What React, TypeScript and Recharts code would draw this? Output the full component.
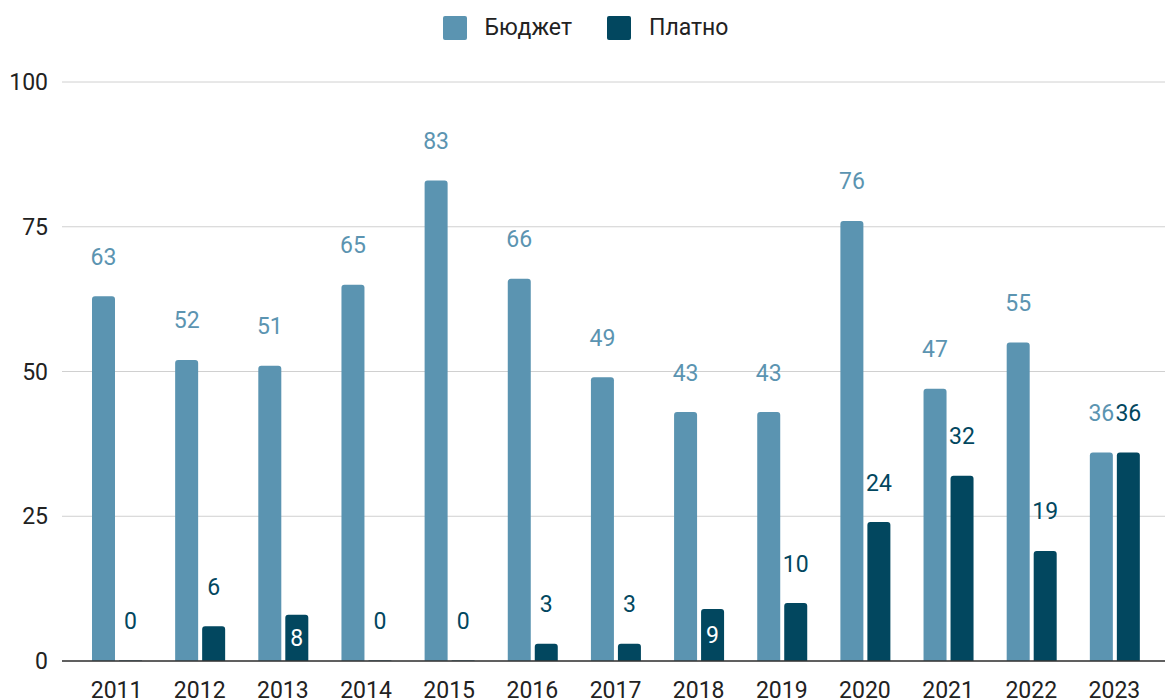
import React from "react";
import { BarChart, Bar, XAxis, YAxis, CartesianGrid, LabelList } from "recharts";

const years = ["2011", "2012", "2013", "2014", "2015", "2016", "2017", "2018", "2019", "2020", "2021", "2022", "2023"];
const budget = [63, 52, 51, 65, 83, 66, 49, 43, 43, 76, 47, 55, 36];
const paid = [0, 6, 8, 0, 0, 3, 3, 9, 10, 24, 32, 19, 36];
const yTicks = [0, 25, 50, 75, 100];
// years where the "Платно" label sits inside its bar in the original
const insideLabelYears = ["2013", "2018"];

const BUDGET_COLOR = "#5b94b1";
const PAID_COLOR = "#02475f";
const FONT = "Roboto, 'Noto Sans', sans-serif";
const FONT_SIZE = 23;

const data = years.map((year, i) => ({ year, budget: budget[i], paid: paid[i] }));

const makeLabel = (color: string, series: "budget" | "paid") => (props: any) => {
  const { x, y, width, height, value, index } = props;
  const inside = series === "paid" && insideLabelYears.includes(years[index]);
  const cx = Number(x) + Number(width) / 2;
  const cy = inside ? Number(y) + Number(height) / 2 + 1 : Number(y) - 39;
  return (
    <text
      x={cx}
      y={cy}
      textAnchor="middle"
      dominantBaseline="central"
      fill={inside ? "#ffffff" : color}
      fontSize={FONT_SIZE}
      fontFamily={FONT}
    >
      {value}
    </text>
  );
};

const legendItems = [
  { name: "Бюджет", color: BUDGET_COLOR },
  { name: "Платно", color: PAID_COLOR },
];

export default function App() {
  return (
    <div style={{ position: "absolute", left: 0, top: 0, width: 1165, height: 699, background: "#fff" }}>
      <div
        style={{
          position: "absolute",
          top: 14,
          left: 3,
          width: 1165,
          display: "flex",
          justifyContent: "center",
          alignItems: "center",
          fontFamily: FONT,
          zIndex: 1,
        }}
      >
        {legendItems.map((item, i) => (
          <div key={item.name} style={{ display: "flex", alignItems: "center", marginLeft: i > 0 ? 35 : 0 }}>
            <div style={{ width: 24, height: 24, background: item.color, borderRadius: 2, marginRight: 18 }} />
            <span style={{ fontSize: FONT_SIZE, color: "#222" }}>{item.name}</span>
          </div>
        ))}
      </div>
      <BarChart
        width={1165}
        height={699}
        data={data}
        margin={{ top: 82, right: 0, bottom: 0, left: 0 }}
        barGap={4}
        barSize={23}
      >
        <CartesianGrid vertical={false} stroke="#d0d0d0" />
        <XAxis
          dataKey="year"
          height={38}
          padding={{ left: 13, right: 9 }}
          tickLine={false}
          tickSize={0}
          tickMargin={21}
          axisLine={{ stroke: "#333", strokeWidth: 1.5 }}
          tick={{ fill: "#222", fontSize: FONT_SIZE, fontFamily: FONT }}
          interval={0}
        />
        <YAxis
          width={62}
          domain={[0, 100]}
          ticks={yTicks}
          axisLine={false}
          tickLine={false}
          tickSize={0}
          tickMargin={14}
          tick={{ fill: "#222", fontSize: FONT_SIZE, fontFamily: FONT }}
        />
        <Bar dataKey="budget" name="Бюджет" fill={BUDGET_COLOR} radius={[3, 3, 0, 0]} isAnimationActive={false}>
          <LabelList dataKey="budget" content={makeLabel(BUDGET_COLOR, "budget")} />
        </Bar>
        <Bar
          dataKey="paid"
          name="Платно"
          fill={PAID_COLOR}
          radius={[3, 3, 0, 0]}
          minPointSize={0.5}
          isAnimationActive={false}
        >
          <LabelList dataKey="paid" content={makeLabel(PAID_COLOR, "paid")} />
        </Bar>
      </BarChart>
    </div>
  );
}
